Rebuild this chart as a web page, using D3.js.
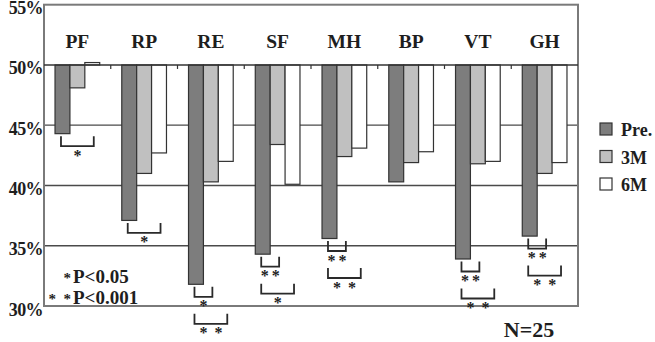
<!DOCTYPE html>
<html>
<head>
<meta charset="utf-8">
<script src="https://cdn.jsdelivr.net/npm/d3@7"></script>
<style>
  body { margin: 0; background: #fff; }
  svg text { font-family: "Liberation Serif", "Times New Roman", serif; font-weight: bold; fill: #1e1e1e; }
</style>
</head>
<body>
<div id="chart"></div>
<script>
// data
var categories = ['PF', 'RP', 'RE', 'SF', 'MH', 'BP', 'VT', 'GH'];
var seriesNames = ['Pre.', '3M', '6M'];
var preValues = [44.3, 37.1, 31.8, 34.3, 35.6, 40.3, 33.9, 35.8];
var m3Values  = [48.1, 41.0, 40.3, 43.4, 42.4, 41.9, 41.8, 41.0];
var m6Values  = [50.2, 42.7, 42.0, 40.1, 43.1, 42.8, 42.0, 41.9];
var yTicks = [30, 35, 40, 45, 50, 55];
var seriesColors = ['#7d7d7d', '#c0c0c0', '#ffffff'];

// significance brackets: category, bar pair, stars, row below the Pre. bar
var sigCats  = ['PF', 'RP', 'RE', 'RE', 'SF', 'SF', 'MH', 'MH', 'VT', 'VT', 'GH', 'GH'];
var sigTo    = ['6M', '6M', '3M', '6M', '3M', '6M', '3M', '6M', '3M', '6M', '3M', '6M'];
var sigStars = [1, 1, 1, 2, 2, 1, 2, 2, 2, 2, 2, 2];
var sigRow   = [0, 0, 0, 1, 0, 1, 0, 1, 0, 1, 0, 1];

var noteLines = [['*', 'P<0.05'], ['*  *', 'P<0.001']];
var sampleNote = 'N=25';

var W = 655, H = 342;
var plotL = 44, plotR = 578, plotT = 4.7, plotB = 306;

var svg = d3.select('#chart').append('svg')
  .attr('width', W).attr('height', H);

var x0 = d3.scaleBand().domain(categories).range([plotL, plotR]).paddingInner(0).paddingOuter(0);
var x1 = d3.scaleBand().domain(seriesNames).range([0, x0.bandwidth()]).paddingOuter(0.74).paddingInner(0);
var y = d3.scaleLinear().domain([30, 55]).range([plotB, plotT]);
var color = d3.scaleOrdinal().domain(seriesNames).range(seriesColors);

var rows = categories.map(function(c, i) {
  return { cat: c, values: [preValues[i], m3Values[i], m6Values[i]] };
});

// gridlines
svg.append('g').selectAll('line')
  .data(yTicks.filter(function(t) { return t !== 50 && t !== 55; }))
  .enter().append('line')
  .attr('x1', plotL).attr('x2', plotR)
  .attr('y1', d => y(d)).attr('y2', d => y(d))
  .attr('stroke', '#4a4a4a').attr('stroke-width', 1.3);

// frame
svg.append('rect')
  .attr('x', plotL).attr('y', y(55))
  .attr('width', plotR - plotL).attr('height', y(30) - y(55))
  .attr('fill', 'none').attr('stroke', '#7a7a7a').attr('stroke-width', 2);

// bars hanging from 50%
var group = svg.append('g').selectAll('g')
  .data(rows).enter().append('g')
  .attr('transform', d => 'translate(' + x0(d.cat) + ',0)');

group.selectAll('rect')
  .data(d => d.values.map((v, j) => ({ key: seriesNames[j], v: v })))
  .enter().append('rect')
  .attr('x', d => x1(d.key))
  .attr('width', x1.bandwidth())
  .attr('y', d => y(Math.max(d.v, 50)))
  .attr('height', d => Math.abs(y(d.v) - y(50)))
  .attr('fill', d => color(d.key))
  .attr('stroke', '#333').attr('stroke-width', 1.2);

// 50% baseline with inward ticks at category boundaries
svg.append('line')
  .attr('x1', plotL).attr('x2', plotR)
  .attr('y1', y(50)).attr('y2', y(50))
  .attr('stroke', '#333').attr('stroke-width', 1.6);
svg.append('g').selectAll('line')
  .data(categories.slice(1))
  .enter().append('line')
  .attr('x1', d => x0(d)).attr('x2', d => x0(d))
  .attr('y1', y(50)).attr('y2', y(50) + 4)
  .attr('stroke', '#333').attr('stroke-width', 1.2);

// category labels in header
svg.append('g').selectAll('text')
  .data(categories).enter().append('text')
  .attr('x', d => x0(d) + x0.bandwidth() / 2)
  .attr('y', 48)
  .attr('text-anchor', 'middle')
  .attr('font-size', 19.5)
  .text(d => d);

// y axis labels
var yAxis = d3.axisLeft(y).tickValues(yTicks).tickSize(0).tickPadding(1)
  .tickFormat(d => d + '%');
var ya = svg.append('g').attr('transform', 'translate(' + plotL + ',0)').call(yAxis);
ya.select('.domain').remove();
ya.selectAll('text')
  .attr('font-family', null)
  .attr('font-size', 18)
  .attr('dy', '0.5em')
  .attr('letter-spacing', -0.6)
  .attr('fill', '#1e1e1e');

// significance brackets
var sig = sigCats.map(function(c, i) {
  var r = rows[categories.indexOf(c)];
  return { cat: c, to: sigTo[i], stars: sigStars[i], row: sigRow[i], pre: r.values[0] };
});
var sg = svg.append('g');
sig.forEach(function(s) {
  var xa = x0(s.cat) + x1('Pre.') + x1.bandwidth() / 2 - 1.5;
  var xb = x0(s.cat) + x1(s.to) + x1.bandwidth() / 2 + 1.5;
  var yt = y(s.pre) + 2.5 + s.row * 27;
  var yb = yt + 10;
  sg.append('path')
    .attr('d', 'M' + xa + ',' + yt + 'V' + yb + 'H' + xb + 'V' + yt)
    .attr('fill', 'none').attr('stroke', '#2a2a2a').attr('stroke-width', 1.8);
  var xm = (xa + xb) / 2;
  var gap = s.row === 0 ? 11 : 15;
  for (var k = 0; k < s.stars; k++) {
    var xs = s.stars === 1 ? xm : xm + (k - 0.5) * gap;
    sg.append('text')
      .attr('x', xs).attr('y', yb + 14.5)
      .attr('text-anchor', 'middle')
      .attr('font-size', 16)
      .text('*');
  }
});

// legend
var lg = svg.append('g').selectAll('g')
  .data(seriesNames).enter().append('g')
  .attr('transform', (d, i) => 'translate(600,' + (123 + i * 27.5) + ')');
lg.append('rect')
  .attr('width', 12).attr('height', 12)
  .attr('fill', d => color(d))
  .attr('stroke', '#333').attr('stroke-width', 1.2);
lg.append('text')
  .attr('x', 21).attr('y', 13)
  .attr('font-size', 18)
  .text(d => d);

// p-value note
var nt = svg.append('g').selectAll('g')
  .data(noteLines).enter().append('g');
nt.append('text')
  .attr('x', 71).attr('y', (d, i) => 283 + i * 21)
  .attr('text-anchor', 'end')
  .attr('font-size', 15)
  .style('white-space', 'pre')
  .text(d => d[0]);
nt.append('text')
  .attr('x', 73).attr('y', (d, i) => 283 + i * 21)
  .attr('font-size', 19)
  .text(d => d[1]);

svg.append('text')
  .attr('x', 529).attr('y', 337)
  .attr('text-anchor', 'middle')
  .attr('font-size', 22)
  .text(sampleNote);
</script>
</body>
</html>
